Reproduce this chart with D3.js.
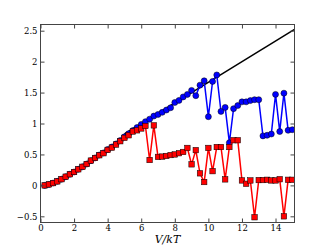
<!DOCTYPE html>
<html>
<head>
<meta charset="utf-8">
<script src="https://cdn.jsdelivr.net/npm/d3@7"></script>
<style>
  body { margin: 0; background: #fff; }
  svg text { font-family: "DejaVu Serif", "Liberation Serif", serif; }
</style>
</head>
<body>
<div id="my_dataviz"></div>
<script>
// data
var vkt = [0.25,0.5,0.75,1,1.25,1.5,1.75,2,2.25,2.5,2.75,3,3.25,3.5,3.75,4,4.25,4.5,4.75,5,
           5.25,5.5,5.75,6,6.25,6.5,6.75,7,7.25,7.5,7.75,8,8.25,8.5,8.75,9,9.25,9.5,9.75,10,
           10.25,10.5,10.75,11,11.25,11.5,11.75,12,12.25,12.5,12.75,13,13.25,13.5,13.75,14,14.25,14.5,14.75,15]

var blueVals = [0.0,0.016,0.037,0.065,0.10,0.14,0.18,0.216,0.26,0.30,0.345,0.40,0.443,0.49,0.525,0.58,0.62,0.67,0.725,0.785,
                0.835,0.885,0.935,0.985,1.03,1.07,1.12,1.146,1.18,1.218,1.255,1.34,1.373,1.43,1.47,1.535,1.45,1.62,1.69,1.11,
                1.68,1.785,1.195,1.26,0.69,1.24,1.29,1.35,1.35,1.37,1.385,1.385,0.80,0.81,0.83,1.47,0.87,1.49,0.89,0.90]

var redVals = [0.0,0.016,0.037,0.065,0.10,0.14,0.18,0.216,0.26,0.30,0.345,0.40,0.443,0.487,0.52,0.573,0.61,0.66,0.714,0.768,
               0.81,0.87,0.89,0.92,0.96,0.41,0.97,0.46,0.465,0.475,0.49,0.50,0.52,0.54,0.605,0.34,0.57,0.195,0.054,0.605,
               0.23,0.62,0.62,0.097,0.62,0.73,0.73,0.08,0.026,0.08,-0.515,0.086,0.086,0.09,0.08,0.08,0.10,-0.50,0.09,0.09]

// reference line V/6kT (only visible from about V/kT = 5)
var lineX = [5, 15.13]
var lineY = [5 / 6, 15.13 / 6]

var xTicks = [0, 2, 4, 6, 8, 10, 12, 14]
var yTicks = [-0.5, 0, 0.5, 1, 1.5, 2, 2.5]
var yTickLabels = ["\u22120.5", "0", "0.5", "1", "1.5", "2", "2.5"]

// set the dimensions and margins of the graph
var width = 327
    height = 247
var margin = {top: 24.5, right: 32.5, bottom: 24.5, left: 40.5}
var w = width - margin.left - margin.right
    h = height - margin.top - margin.bottom

var svg = d3.select("#my_dataviz")
  .append("svg")
    .attr("width", width)
    .attr("height", height)
  .append("g")
    .attr("transform", "translate(" + margin.left + "," + margin.top + ")");

var x = d3.scaleLinear().domain([0, 15.13]).range([0, w])
var y = d3.scaleLinear().domain([-0.6, 2.6]).range([h, 0])

svg.append("clipPath").attr("id", "clip")
  .append("rect").attr("width", w).attr("height", h)

var plot = svg.append("g").attr("clip-path", "url(#clip)")

var line = d3.line()
  .x(function(d){ return x(d[0]) })
  .y(function(d){ return y(d[1]) })

// black reference line
plot.append("path")
  .datum(d3.zip(lineX, lineY))
  .attr("d", line)
  .attr("fill", "none")
  .attr("stroke", "#000")
  .attr("stroke-width", 1.5)

// blue series
plot.append("path")
  .datum(d3.zip(vkt, blueVals))
  .attr("d", line)
  .attr("fill", "none")
  .attr("stroke", "#0000ff")
  .attr("stroke-width", 1.5)

plot.selectAll("blueDots")
  .data(d3.zip(vkt, blueVals))
  .enter()
  .append("circle")
    .attr("cx", function(d){ return x(d[0]) })
    .attr("cy", function(d){ return y(d[1]) })
    .attr("r", 3)
    .attr("fill", "#0000ff")
    .attr("stroke", "#000")
    .attr("stroke-width", 0.5)

// red series
plot.append("path")
  .datum(d3.zip(vkt, redVals))
  .attr("d", line)
  .attr("fill", "none")
  .attr("stroke", "#ff0000")
  .attr("stroke-width", 1.5)

var sq = 5.5
plot.selectAll("redSquares")
  .data(d3.zip(vkt, redVals))
  .enter()
  .append("rect")
    .attr("x", function(d){ return x(d[0]) - sq / 2 })
    .attr("y", function(d){ return y(d[1]) - sq / 2 })
    .attr("width", sq)
    .attr("height", sq)
    .attr("fill", "#ff0000")
    .attr("stroke", "#000")
    .attr("stroke-width", 0.5)

// axes, ticks pointing inward on all four sides
var axisColor = "#444"
function styleAxis(g) {
  g.select(".domain").remove()
  g.selectAll("line").attr("stroke", axisColor)
  g.selectAll("text").attr("fill", "#000").style("font-size", "8.5px")
}

svg.append("g")
  .attr("transform", "translate(0," + h + ")")
  .call(d3.axisBottom(x).tickValues(xTicks).tickSize(-4).tickPadding(2).tickFormat(d3.format("d")))
  .call(styleAxis)

svg.append("g")
  .call(d3.axisTop(x).tickValues(xTicks).tickSize(-4).tickFormat(""))
  .call(styleAxis)

svg.append("g")
  .call(d3.axisLeft(y).tickValues(yTicks).tickSize(-4).tickPadding(3)
    .tickFormat(function(d, i){ return yTickLabels[i] }))
  .call(styleAxis)

svg.append("g")
  .attr("transform", "translate(" + w + ",0)")
  .call(d3.axisRight(y).tickValues(yTicks).tickSize(-4).tickFormat(""))
  .call(styleAxis)

svg.append("rect")
  .attr("width", w)
  .attr("height", h)
  .attr("fill", "none")
  .attr("stroke", axisColor)
  .attr("stroke-width", 1)

// x label
svg.append("text")
  .attr("x", w / 2)
  .attr("y", h + 20.5)
  .attr("text-anchor", "middle")
  .style("font-size", "11px")
  .style("font-style", "italic")
  .text("V/kT")
</script>
</body>
</html>
